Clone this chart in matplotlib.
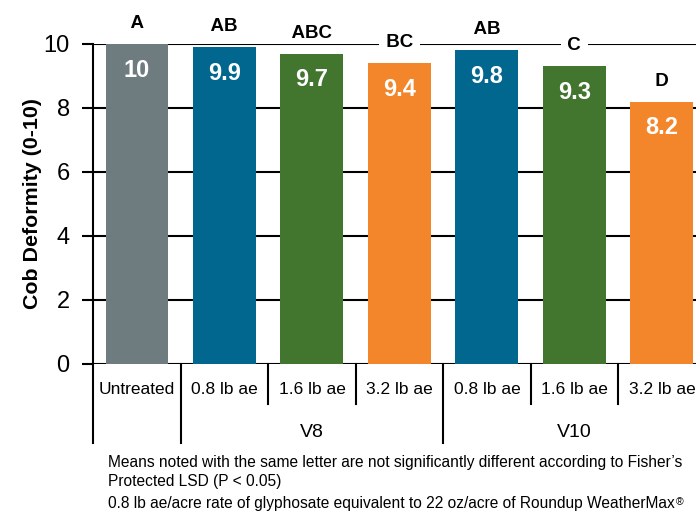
import matplotlib
matplotlib.use("Agg")
import matplotlib.pyplot as plt
import matplotlib.transforms as mtransforms

plt.rcParams['font.family'] = ['Liberation Sans', 'DejaVu Sans']

# Cob deformity ratings by glyphosate rate and application timing
categories = ["Untreated", "0.8 lb ae", "1.6 lb ae", "3.2 lb ae",
              "0.8 lb ae", "1.6 lb ae", "3.2 lb ae"]
values = [10, 9.9, 9.7, 9.4, 9.8, 9.3, 8.2]
letters = ["A", "AB", "ABC", "BC", "AB", "C", "D"]
groups = ["V8", "V10"]
group_centers = [2, 5]
colors = ["#6e7b7f", "#02678f", "#42762e", "#f3862a",
          "#02678f", "#42762e", "#f3862a"]
yticks = [0, 2, 4, 6, 8, 10]
notes = [
    "Means noted with the same letter are not significantly different according to Fisher\u2019s",
    "Protected LSD (P < 0.05)",
    "0.8 lb ae/acre rate of glyphosate equivalent to 22 oz/acre of Roundup WeatherMax",
]

fig = plt.figure(figsize=(6.96, 5.11), dpi=100)
ax = fig.add_axes([0.134, 0.2877, 0.866, 0.6262])

x = list(range(len(values)))
ax.bar(x, values, width=0.72, color=colors, zorder=3)

for xi, v, lt in zip(x, values, letters):
    label = "10" if v == 10 else f"{v:.1f}"
    ax.annotate(label, (xi, v), xytext=(0, -19), textcoords="offset points",
                ha="center", va="center", color="white", fontsize=17,
                fontweight="bold", zorder=4)
    # significance letters sit on white so they break the gridline
    ax.annotate(" " + lt + " ", (xi, v), xytext=(0, 11.5), textcoords="offset points",
                ha="center", va="baseline", color="black", fontsize=13.5,
                fontweight="bold", zorder=5,
                bbox=dict(boxstyle="square,pad=0.08", fc="white", ec="none"),
                annotation_clip=False)

ax.set_xlim(-0.5, 6.39)
ax.set_ylim(0, 10)
ax.set_yticks(yticks)
ax.yaxis.grid(True, color="black", linewidth=1.5, zorder=1)
ax.tick_params(axis="y", length=8, width=1.5, pad=9, labelsize=17)
ax.set_xticks([])
for side in ["top", "right", "bottom"]:
    ax.spines[side].set_visible(False)
ax.spines["left"].set_linewidth(1.5)
ax.set_ylabel("Cob Deformity (0-10)", fontsize=15.4, fontweight="bold", labelpad=1)

# category labels and divider lines under the axis
trans = mtransforms.blended_transform_factory(ax.transData, ax.transAxes)
for xi, name in zip(x, categories):
    ax.text(xi, -0.081, name, transform=trans, ha="center", va="center",
            fontsize=12.5, clip_on=False)
long_div = [-0.5, 0.5, 3.5]
short_div = [1.5, 2.5, 4.5, 5.5]
for d in long_div:
    ax.plot([d, d], [0, -0.248], transform=trans, color="black",
            linewidth=1.5, clip_on=False)
for d in short_div:
    ax.plot([d, d], [0, -0.125], transform=trans, color="black",
            linewidth=1.5, clip_on=False)
for gc, g in zip(group_centers, groups):
    ax.text(gc, -0.213, g, transform=trans, ha="center", va="center",
            fontsize=14, clip_on=False)

# footnotes
note_y = [462, 481, 503]
for ny, line in zip(note_y, notes):
    fig.text(108 / 696, 1 - ny / 511, line, ha="left", va="center", fontsize=11.2)
last = fig.texts[-1]
fig.canvas.draw()
bb = last.get_window_extent(fig.canvas.get_renderer())
fig.text(bb.x1 / 696 + 0.001, bb.y1 / 511 - 0.012, "\u00ae",
         ha="left", va="center", fontsize=7.5)

fig.savefig("out.png", dpi=100)
